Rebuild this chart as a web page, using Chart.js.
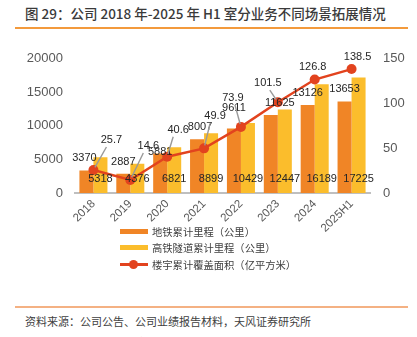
<!DOCTYPE html>
<html>
<head>
<meta charset="utf-8">
<script src="https://cdn.jsdelivr.net/npm/chart.js@4/dist/chart.umd.min.js"></script>
<style>
  html, body { margin: 0; padding: 0; background: #fff; }
  body { width: 417px; height: 337px; position: relative; overflow: hidden;
         font-family: "Noto Sans CJK SC", "Liberation Sans", sans-serif; color: #404040; }
  .title { position: absolute; left: 25px; top: 3px; font-size: 13.5px; font-weight: 500; color: #3a3a3a; white-space: nowrap; }
  .rule { position: absolute; left: 15px; width: 393px; height: 2px; }
  #chartBox { position: absolute; left: 0; top: 38px; width: 417px; height: 200px; }
  .legend { position: absolute; left: 120px; top: 223px; font-size: 10.3px; color: #404040; }
  .legend .row { height: 16.5px; display: flex; align-items: center; white-space: nowrap; }
  .legend .sw { width: 28px; height: 5px; margin-right: 4px; position: relative; }
  .legend .dot { position: absolute; left: 9px; top: -3px; width: 9px; height: 9px; border-radius: 50%; }
  .source { position: absolute; left: 25px; top: 313px; font-size: 11px; white-space: nowrap; }
  .cut { position: absolute; left: 15px; top: 334px; font-size: 11px; color: #f4b183; white-space: nowrap; }
</style>
</head>
<body>
<div class="title">图 29：公司 2018 年-2025 年 H1 室分业务不同场景拓展情况</div>
<div class="rule" style="top:27px;background:#f39a3c;"></div>

<div id="chartBox"><canvas id="sceneChart" width="417" height="200"></canvas></div>

<div class="legend" id="legend"></div>

<div class="rule" style="top:306px;background:#f4b183;height:1.5px;"></div>
<div class="source">资料来源：公司公告、公司业绩报告材料，天风证券研究所</div>
<div class="cut">请务必阅读正文之后的信息披露和免责申明</div>

<script>
// Categories and series
const years = ['2018', '2019', '2020', '2021', '2022', '2023', '2024', '2025H1'];
const metroKm = [3370, 2887, 5881, 8007, 9611, 11625, 13126, 13653];
const tunnelKm = [5318, 4376, 6821, 8899, 10429, 12447, 16189, 17225];
const buildingArea = [25.7, 14.6, 40.6, 49.9, 73.9, 101.5, 126.8, 138.5];

// Axis ticks
const leftTicks = [0, 5000, 10000, 15000, 20000];
const rightTicks = [0, 50, 100, 150];

const seriesNames = ['地铁累计里程（公里）', '高铁隧道累计里程（公里）', '楼宇累计覆盖面积（亿平方米）'];
const colors = { metro: '#f08526', tunnel: '#fbbd2c', area: '#e2431e' };

// Hand-placed nudges for labels so they don't collide with each other
const metroLabelShift = [[-2, 0], [0, 0], [0, 10], [3, 0], [0, -9], [9, 0], [0, 0], [0, 0]];
const areaLabelShift = [[18, -30], [18, -34], [11, -27], [11, -32], [-8, -29], [-10, -19], [-2, -13], [6, -12]];

const valueLabels = {
    id: 'valueLabels',
    afterDatasetsDraw(chart) {
        const ctx = chart.ctx;
        ctx.save();
        ctx.font = '11px "Liberation Sans", Arial, sans-serif';
        ctx.fillStyle = '#262626';
        ctx.textAlign = 'center';
        ctx.textBaseline = 'middle';

        // metro: above the bar
        chart.getDatasetMeta(0).data.forEach((bar, i) => {
            const s = metroLabelShift[i];
            ctx.fillText(String(metroKm[i]), bar.x + s[0], bar.y - 12 + s[1]);
        });
        // tunnel: inside the bar, near the axis
        chart.getDatasetMeta(1).data.forEach((bar, i) => {
            ctx.fillText(String(tunnelKm[i]), bar.x, bar.base - 14);
        });
        // building area: label plus leader line when it sits far from the point
        chart.getDatasetMeta(2).data.forEach((pt, i) => {
            const s = areaLabelShift[i];
            const lx = pt.x + s[0], ly = pt.y + s[1];
            if (Math.abs(s[1]) > 16) {
                const ex = lx + (s[0] > 0 ? -5 : 2), ey = ly + 7;
                const len = Math.hypot(ex - pt.x, ey - pt.y);
                ctx.beginPath();
                ctx.strokeStyle = '#999999';
                ctx.lineWidth = 1.4;
                ctx.moveTo(pt.x + (ex - pt.x) / len * 3, pt.y + (ey - pt.y) / len * 3);
                ctx.lineTo(ex, ey);
                ctx.stroke();
            }
            ctx.fillText(buildingArea[i].toFixed(1), lx, ly);
        });
        ctx.restore();
    }
};

function buildLegend() {
    const box = document.getElementById('legend');
    const swatches = [
        '<div class="sw" style="background:' + colors.metro + '"></div>',
        '<div class="sw" style="background:' + colors.tunnel + '"></div>',
        '<div class="sw" style="height:2.5px;background:' + colors.area + '"><div class="dot" style="background:' + colors.area + '"></div></div>'
    ];
    box.innerHTML = seriesNames.map((n, i) => '<div class="row">' + swatches[i] + '<span>' + n + '</span></div>').join('');
}

const tickFont = { family: '"Liberation Sans", Arial, sans-serif', size: 13 };

new Chart(document.getElementById('sceneChart'), {
    type: 'bar',
    data: {
        labels: years,
        datasets: [
            { label: seriesNames[0], data: metroKm, backgroundColor: colors.metro, yAxisID: 'y', order: 2,
              categoryPercentage: 0.76, barPercentage: 1.0 },
            { label: seriesNames[1], data: tunnelKm, backgroundColor: colors.tunnel, yAxisID: 'y', order: 2,
              categoryPercentage: 0.76, barPercentage: 1.0 },
            { type: 'line', label: seriesNames[2], data: buildingArea, yAxisID: 'y1', order: 0,
              borderColor: colors.area, backgroundColor: colors.area, borderWidth: 2.5,
              pointRadius: 5, pointBackgroundColor: colors.area, pointBorderWidth: 0, tension: 0 }
        ]
    },
    options: {
        responsive: false,
        animation: false,
        layout: { padding: { top: 12, left: 0, right: 0, bottom: 0 } },
        plugins: { legend: { display: false }, tooltip: { enabled: false } },
        scales: {
            x: {
                grid: { display: false, drawTicks: false },
                border: { display: true, color: '#bfbfbf', width: 2 },
                ticks: { color: '#595959', font: { family: tickFont.family, size: 11.5 },
                         minRotation: 45, maxRotation: 45, autoSkip: false, padding: 4 },
                afterFit: (scale) => { scale.height = 45; }
            },
            y: {
                position: 'left',
                min: 0, max: 20000,
                grid: { display: false, drawTicks: false },
                border: { display: false },
                afterBuildTicks: (scale) => { scale.ticks = leftTicks.map(v => ({ value: v })); },
                ticks: { color: '#595959', font: tickFont, padding: 12, callback: (v) => String(v) },
                afterFit: (scale) => { scale.width = 75; }
            },
            y1: {
                position: 'right',
                min: 0, max: 150,
                grid: { display: false, drawTicks: false },
                border: { display: false },
                afterBuildTicks: (scale) => { scale.ticks = rightTicks.map(v => ({ value: v })); },
                ticks: { color: '#595959', font: tickFont, padding: 13, callback: (v) => String(v) },
                afterFit: (scale) => { scale.width = 47; }
            }
        }
    },
    plugins: [valueLabels]
});

buildLegend();
</script>
</body>
</html>
